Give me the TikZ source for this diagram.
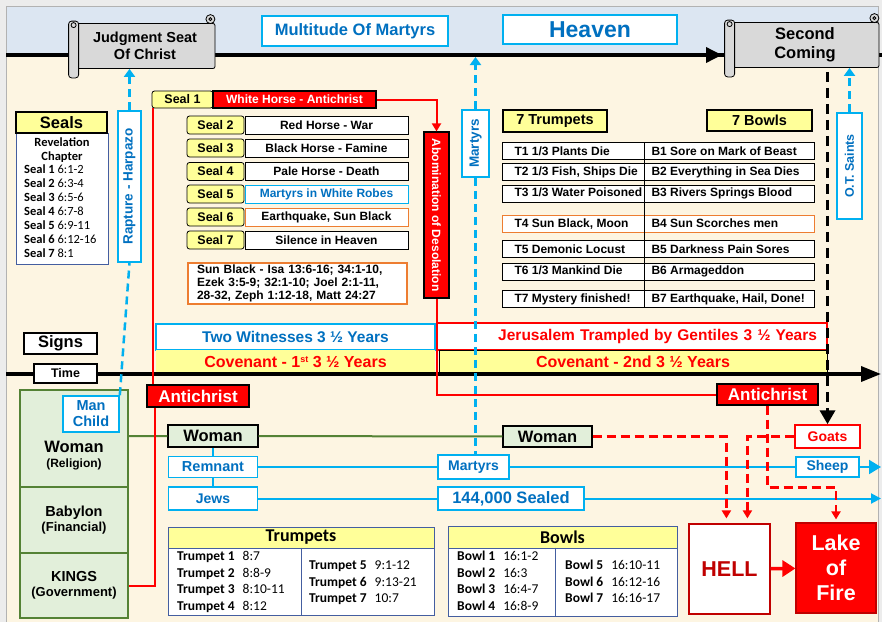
\documentclass[tikz,border=0pt]{standalone}
\usepackage{fontspec}
\usepackage{graphicx}
\setmainfont{Liberation Sans}
\newfontfamily\calibri{Carlito}
\usetikzlibrary{calc,arrows.meta}
\definecolor{skyblue}{RGB}{0,176,240}
\definecolor{textblue}{RGB}{0,112,192}
\definecolor{paleyellow}{RGB}{255,255,153}
\definecolor{darkred}{RGB}{192,0,0}
\definecolor{leafgreen}{RGB}{84,130,53}
\definecolor{palegreen}{RGB}{226,239,218}
\definecolor{parchment}{RGB}{253,245,226}
\definecolor{heavenblue}{RGB}{220,230,242}
\definecolor{scrollgray}{RGB}{217,217,217}
\definecolor{tableblue}{RGB}{68,94,160}
\definecolor{orangeline}{RGB}{237,125,49}
\newcommand{\tikzScrollNode}[5]{
  \node[draw,thick,fill=scrollgray,rounded corners=2pt,inner sep=0pt,minimum width=#3,minimum height=45,align=center,font=#4] (#1) at (#2) {#5};
  \draw[thick,fill=scrollgray,rounded corners=3pt] ($(#1.north west)+(-6,-2)$) rectangle ($(#1.south west)+(4,9)$);
  \draw[thick,fill=scrollgray] ($(#1.north west)+(-1,2)$) circle (2.5pt);
  \draw[thick,fill=scrollgray] ($(#1.north east)+(-5,-4)$) circle (4.5pt);
  \draw[thick] ($(#1.north east)+(-5,-4)$) circle (1.5pt);
}

\begin{document}
\begin{tikzpicture}[x=1pt, y=-1pt,
  plainbox/.style={draw, fill=white, inner sep=0pt, align=center, font=\fontsize{12}{14}\selectfont\bfseries},
  bluebox/.style={plainbox, draw=skyblue, line width=1.6pt, text=textblue},
  redbox/.style={plainbox, draw=black, fill=red, text=white, line width=1.2pt},
  sealbox/.style={plainbox, fill=paleyellow, rounded corners=2.5pt, line width=0.8pt, font=\fontsize{12.5}{14}\selectfont\bfseries},
  rowbox/.style={plainbox, minimum width=312, minimum height=17, line width=0.8pt},
  greenbox/.style={plainbox, draw=leafgreen, fill=palegreen, line width=2pt, minimum width=108},
  tablebox/.style={draw=tableblue, fill=white, line width=0.8pt, inner sep=0pt},
  timeline/.style={black, line width=3.5pt},
  redline/.style={red, line width=2pt},
  blueline/.style={skyblue, line width=2pt},
  reddash/.style={red, line width=2.5pt, dash pattern=on 9pt off 5pt, -{Triangle[length=8pt,width=9pt]}},
  bluedash/.style={skyblue, line width=2.5pt, dash pattern=on 8pt off 5pt}]
  \useasboundingbox (0,0) rectangle (882,622);
  \fill[gray!15] (0,0) rectangle (882,622);
  \fill[parchment] (6,6) rectangle (878,622);
  \fill[heavenblue] (6,6) rectangle (878,55);
  \draw[gray!60, line width=0.8pt] (6,622) -- (6,6) -- (878,6) -- (878,622);

  % heaven line
  \coordinate (topL) at (6,55);
  \coordinate (topR) at (882,55);
  \draw[timeline] (topL) -- (topR);
  \draw[timeline, -{Triangle[length=16pt,width=15pt]}] (topL) -- (722,55);
  \tikzScrollNode{judgment}{145,46}{140}{\fontsize{14.5}{16.5}\selectfont\bfseries}{Judgment Seat\\Of Christ}
  \tikzScrollNode{second}{805,45}{148}{\fontsize{16.5}{18.5}\selectfont\bfseries}{Second\\Coming}
  \node[bluebox, minimum width=186, minimum height=30, font=\fontsize{16.5}{18}\selectfont\bfseries] (multitude) at (355,31) {Multitude Of Martyrs};
  \node[bluebox, minimum width=174, minimum height=29, font=\fontsize{23}{26}\selectfont\bfseries] (heaven) at (590,29.5) {Heaven};

  % seals
  \node[plainbox, draw=tableblue, line width=0.8pt, minimum width=92, minimum height=131, anchor=north] (sealsbody) at (62,133) {};
  \node[plainbox, fill=paleyellow, line width=1.2pt, minimum width=91, minimum height=21, font=\fontsize{16.5}{18}\selectfont\bfseries] (sealstitle) at (61.5,122.5) {Seals};
  \node[inner sep=0pt, align=center, font=\calibri\bfseries\fontsize{12.5}{14}\selectfont] (revchapter) at (62,150) {Revelation\\Chapter};
  \node[inner sep=0pt, align=left, anchor=north west, font=\calibri\fontsize{12.5}{13.9}\selectfont] (sealrefs) at (24,165) {\textbf{Seal 1} 6:1-2\\\textbf{Seal 2} 6:3-4\\\textbf{Seal 3} 6:5-6\\\textbf{Seal 4} 6:7-8\\\textbf{Seal 5} 6:9-11\\\textbf{Seal 6} 6:12-16\\\textbf{Seal 7} 8:1};

  \node[sealbox, minimum width=61, minimum height=17] (seal1) at (182.5,99.5) {Seal 1};
  \node[redbox, minimum width=163, minimum height=17] (horse) at (294.5,99.5) {White Horse - Antichrist};
  \node[sealbox, minimum width=57, minimum height=18] (seal2) at (215.5,125) {Seal 2};
  \node[plainbox, minimum width=163, minimum height=18] (event2) at (326.5,125) {Red Horse - War};
  \node[sealbox, minimum width=57, minimum height=18] (seal3) at (215.5,148) {Seal 3};
  \node[plainbox, minimum width=163, minimum height=18] (event3) at (326.5,148) {Black Horse - Famine};
  \node[sealbox, minimum width=57, minimum height=18] (seal4) at (215.5,171.5) {Seal 4};
  \node[plainbox, minimum width=163, minimum height=18] (event4) at (326.5,171.5) {Pale Horse - Death};
  \node[sealbox, minimum width=57, minimum height=18] (seal5) at (215.5,194) {Seal 5};
  \node[plainbox, draw=skyblue, text=textblue, minimum width=163, minimum height=18] (event5) at (326.5,194) {Martyrs in White Robes};
  \node[sealbox, minimum width=57, minimum height=18] (seal6) at (215.5,217) {Seal 6};
  \node[plainbox, draw=orangeline, minimum width=163, minimum height=18] (event6) at (326.5,217) {Earthquake, Sun Black};
  \node[sealbox, minimum width=57, minimum height=18] (seal7) at (215.5,240) {Seal 7};
  \node[plainbox, minimum width=163, minimum height=18] (event7) at (326.5,240) {Silence in Heaven};
  \node[plainbox, draw=orangeline, line width=1.2pt, text width=201, inner xsep=9, minimum height=41, align=left, font=\fontsize{12}{13}\selectfont\bfseries] (sunblack) at (297.5,283.5) {Sun Black - Isa 13:6-16; 34:1-10,\\Ezek 3:5-9; 32:1-10; Joel 2:1-11,\\28-32, Zeph 1:12-18, Matt 24:27};

  \node[redbox, minimum width=25, minimum height=166] (abom) at (436.5,215) {\rotatebox{-90}{Abomination of Desolation}};
  \node[bluebox, minimum width=23, minimum height=151, font=\fontsize{13.5}{15}\selectfont\bfseries] (rapture) at (129.5,186.5) {\rotatebox{90}{Rapture - Harpazo}};
  \node[bluebox, minimum width=27, minimum height=67, font=\fontsize{13.5}{15}\selectfont\bfseries] (martyrsV) at (475.5,143.5) {\rotatebox{90}{Martyrs}};
  \node[bluebox, minimum width=25, minimum height=106, font=\fontsize{12.5}{14}\selectfont\bfseries] (ots) at (849.5,166) {\rotatebox{90}{O.T. Saints}};

  % trumpets and bowls
  \node[plainbox, fill=paleyellow, line width=1.2pt, minimum width=104, minimum height=22, font=\fontsize{14.5}{16}\selectfont\bfseries] (trumpets7) at (555,121) {7 Trumpets};
  \node[plainbox, fill=paleyellow, line width=1.2pt, minimum width=105, minimum height=21, font=\fontsize{14.5}{16}\selectfont\bfseries] (bowls7) at (759.5,120.5) {7 Bowls};
  \node[rowbox] (tb1) at (658,151) {\makebox[137pt][l]{T1 1/3 Plants Die}\makebox[150pt][l]{B1 Sore on Mark of Beast}};
  \node[rowbox] (tb2) at (658,172) {\makebox[137pt][l]{T2 1/3 Fish, Ships Die}\makebox[150pt][l]{B2 Everything in Sea Dies}};
  \node[rowbox] (tb3) at (658,193.5) {\makebox[137pt][l]{T3 1/3 Water Poisoned}\makebox[150pt][l]{B3 Rivers Springs Blood}};
  \node[rowbox, draw=orangeline] (tb4) at (658,224) {\makebox[137pt][l]{T4 Sun Black, Moon}\makebox[150pt][l]{B4 Sun Scorches men}};
  \node[rowbox] (tb5) at (658,249) {\makebox[137pt][l]{T5 Demonic Locust}\makebox[150pt][l]{B5 Darkness Pain Sores}};
  \node[rowbox] (tb6) at (658,271.5) {\makebox[137pt][l]{T6 1/3 Mankind Die}\makebox[150pt][l]{B6 Armageddon}};
  \node[rowbox] (tb7) at (658,299) {\makebox[137pt][l]{T7 Mystery finished!}\makebox[150pt][l]{B7 Earthquake, Hail, Done!}};
  \draw[line width=0.6pt] ($(tb1.north west)+(143,0)$) -- ($(tb7.south west)+(143,0)$);

  % years
  \node[bluebox, minimum width=279, minimum height=26, font=\fontsize{15.5}{17}\selectfont\bfseries] (witnesses) at (295.5,337) {Two Witnesses 3 ½ Years};
  \node[plainbox, draw=none, fill=paleyellow, text=red, minimum width=279, minimum height=23, font=\fontsize{16}{18}\selectfont\bfseries] (covenant1) at (295.5,361.5) {Covenant - 1\raisebox{5pt}{\fontsize{9}{10}\selectfont st} 3 ½ Years};
  \node[plainbox, draw=red, line width=1.5pt, text=red, text width=370, inner xsep=10, minimum height=27, align=right, font=\fontsize{15.5}{17}\selectfont\bfseries] (jerusalem) at (632,336.5) {Jerusalem Trampled by Gentiles 3 ½ Years};
  \node[plainbox, line width=0.6pt, fill=paleyellow, text=red, minimum width=388, minimum height=23, font=\fontsize{16}{18}\selectfont\bfseries] (covenant2) at (633,361.5) {Covenant - 2nd 3 ½ Years};

  % time line
  \coordinate (midL) at (6,374);
  \coordinate (midR) at (881,374);
  \draw[timeline, -{Triangle[length=20pt,width=15pt]}] (midL) -- (midR);
  \node[plainbox, line width=1.2pt, minimum width=73, minimum height=21, font=\fontsize{16.5}{18}\selectfont\bfseries] (signs) at (60.5,343.5) {Signs};
  \node[plainbox, line width=1.2pt, minimum width=63, minimum height=19, font=\fontsize{12.5}{14}\selectfont\bfseries] (time) at (65.5,373.5) {Time};

  % earth
  \node[greenbox, minimum height=97] (woman) at (74,438.5) {};
  \node[inner sep=0pt, align=center] (womanlabel) at (74,456) {{\fontsize{16.5}{16}\selectfont\bfseries Woman}\\[3pt]{\fontsize{12}{14}\selectfont\bfseries (Religion)}};
  \node[greenbox, minimum height=66, font=\fontsize{14.5}{15.5}\selectfont\bfseries] (babylon) at (74,520) {Babylon\\{\fontsize{13}{15}\selectfont (Financial)}};
  \node[greenbox, minimum height=65, font=\fontsize{14.5}{15.5}\selectfont\bfseries] (kings) at (74,585.5) {KINGS\\{\fontsize{13}{15}\selectfont (Government)}};
  \node[bluebox, minimum width=56, minimum height=36, font=\fontsize{14.5}{16}\selectfont\bfseries] (manchild) at (91,414) {Man\\Child};

  \node[redbox, minimum width=102, minimum height=22, font=\fontsize{17}{19}\selectfont\bfseries] (antiL) at (198,396) {Antichrist};
  \node[redbox, minimum width=101, minimum height=21, font=\fontsize{17}{19}\selectfont\bfseries] (antiR) at (767.5,394.5) {Antichrist};
  \node[plainbox, fill=palegreen, line width=1.2pt, minimum width=90, minimum height=22, font=\fontsize{16.5}{18}\selectfont\bfseries] (womanM) at (213,436) {Woman};
  \node[plainbox, fill=palegreen, line width=1.2pt, minimum width=89, minimum height=21, font=\fontsize{16.5}{18}\selectfont\bfseries] (womanR) at (547.5,436.5) {Woman};
  \node[bluebox, minimum width=89, minimum height=21, font=\fontsize{14.5}{16}\selectfont\bfseries] (remnant) at (213,467) {Remnant};
  \node[bluebox, minimum width=89, minimum height=23, font=\fontsize{14}{16}\selectfont\bfseries] (jews) at (213,498.5) {Jews};
  \node[bluebox, minimum width=71, minimum height=24, font=\fontsize{14}{16}\selectfont\bfseries] (martyrsH) at (473.5,467) {Martyrs};
  \node[bluebox, minimum width=146, minimum height=23, font=\fontsize{16.5}{18}\selectfont\bfseries] (sealed) at (511,498.5) {144,000 Sealed};
  \node[bluebox, minimum width=63, minimum height=20, font=\fontsize{14}{16}\selectfont\bfseries] (sheep) at (827.5,467) {Sheep};
  \node[plainbox, draw=red, line width=1.5pt, text=red, minimum width=65, minimum height=23, font=\fontsize{14}{16}\selectfont\bfseries] (goats) at (827.5,436.5) {Goats};
  \node[plainbox, draw=darkred, line width=1.2pt, text=darkred, minimum width=81, minimum height=90, font=\fontsize{21.5}{24}\selectfont\bfseries] (hell) at (729.5,569) {HELL};
  \node[plainbox, draw=darkred, line width=1.2pt, fill=red, text=white, minimum width=80, minimum height=90, font=\fontsize{21.5}{25}\selectfont\bfseries] (lake) at (836,568) {Lake\\of\\Fire};

  % tables
  \node[tablebox, fill=paleyellow, minimum width=266, minimum height=21, font=\calibri\bfseries\fontsize{18}{20}\selectfont] (trumpetshead) at (301,537.5) {Trumpets};
  \node[tablebox, minimum width=266, minimum height=67] (trumpetsbody) at (301,581.5) {};
  \draw[tableblue, line width=0.8pt] (trumpetsbody.north) -- (trumpetsbody.south);
  \node[inner sep=0pt, anchor=north west, font=\calibri\fontsize{13.5}{16.5}\selectfont] (trumpetsleft) at (177,549) {\begin{tabular}{@{}l@{\hspace{8pt}}l@{}}\textbf{Trumpet 1} & 8:7\\\textbf{Trumpet 2} & 8:8-9\\\textbf{Trumpet 3} & 8:10-11\\\textbf{Trumpet 4} & 8:12\end{tabular}};
  \node[inner sep=0pt, anchor=north west, font=\calibri\fontsize{13.5}{16.5}\selectfont] (trumpetsright) at (309,558) {\begin{tabular}{@{}l@{\hspace{8pt}}l@{}}\textbf{Trumpet 5} & 9:1-12\\\textbf{Trumpet 6} & 9:13-21\\\textbf{Trumpet 7} & 10:7\end{tabular}};
  \node[tablebox, fill=paleyellow, minimum width=229, minimum height=22, font=\calibri\bfseries\fontsize{18}{20}\selectfont] (bowlshead) at (562.5,537) {Bowls};
  \node[tablebox, minimum width=229, minimum height=68] (bowlsbody) at (562.5,582) {};
  \draw[tableblue, line width=0.8pt] ($(bowlsbody.north west)+(108,0)$) -- ($(bowlsbody.south west)+(108,0)$);
  \node[inner sep=0pt, anchor=north west, font=\calibri\fontsize{13.5}{16.5}\selectfont] (bowlsleft) at (457,549) {\begin{tabular}{@{}l@{\hspace{8pt}}l@{}}\textbf{Bowl 1} & 16:1-2\\\textbf{Bowl 2} & 16:3\\\textbf{Bowl 3} & 16:4-7\\\textbf{Bowl 4} & 16:8-9\end{tabular}};
  \node[inner sep=0pt, anchor=north west, font=\calibri\fontsize{13.5}{16.5}\selectfont] (bowlsright) at (565,558) {\begin{tabular}{@{}l@{\hspace{8pt}}l@{}}\textbf{Bowl 5} & 16:10-11\\\textbf{Bowl 6} & 16:12-16\\\textbf{Bowl 7} & 16:16-17\end{tabular}};

  % connectors
  \draw[leafgreen, line width=2pt] (woman.east |- womanM) -- (womanM) -- (womanR);
  \draw[blueline] (womanM) -- (remnant);
  \draw[blueline] (remnant) -- (jews);
  \draw[blueline] (remnant) -- (martyrsH) -- (sheep);
  \coordinate (sheepEnd) at (881,467);
  \draw[blueline, -{Triangle[length=12pt,width=14pt]}] (sheep) -- (sheepEnd);
  \draw[blueline] (jews) -- (sealed);
  \coordinate (sealedEnd) at (881,498.5);
  \draw[blueline, -{Triangle[length=10pt,width=10pt]}] (sealed) -- (sealedEnd);

  \draw[redline] ($(antiL.north west)+(7,0)$) -- ($(antiL.north west |- seal1.south)+(7,0)$);
  \draw[redline] ($(antiL.south west)+(9,0)$) |- (kings.east);
  \draw[redline, -{Triangle[length=8pt,width=9pt]}] (horse.east) -| (abom.north);
  \draw[redline] (abom.south) |- (antiR.west);
  \draw[reddash, shorten >=5pt] (womanR.east) -| ($(hell.north west)+(38,0)$);
  \draw[reddash, shorten >=5pt] (goats.west) -| ($(hell.north west)+(59,0)$);
  \draw[reddash, shorten >=3pt] (antiR.south) -- ++(0,82) -| (lake.north);
  \draw[red, line width=3.5pt, -{Triangle[length=13pt,width=16pt]}] (hell) -- (lake);

  \draw[black, line width=3.5pt, dash pattern=on 10pt off 6pt, -{Triangle[length=14pt,width=15pt]}] ($(goats.north |- second.south)+(0,4)$) -- (goats.north);
  \draw[bluedash] (manchild.north east) -- (rapture.south);
  \draw[bluedash, -{Triangle[length=8pt,width=11pt]}] (rapture.north) -- (rapture.north |- judgment.south);
  \draw[bluedash] (martyrsV.south) -- (martyrsV.south |- martyrsH.north);
  \draw[bluedash, -{Triangle[length=8pt,width=11pt]}, shorten >=2pt] (martyrsV.north) -- (martyrsV.north |- topL);
  \draw[bluedash, -{Triangle[length=8pt,width=11pt]}] (ots.north) -- (ots.north |- second.south);
\end{tikzpicture}
\end{document}
